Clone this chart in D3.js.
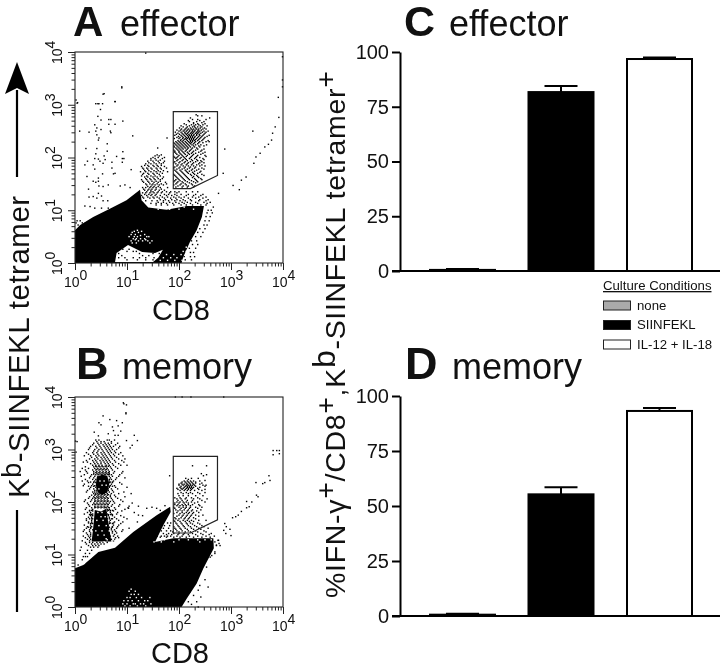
<!DOCTYPE html>
<html><head><meta charset="utf-8">
<style>html,body{margin:0;background:#fff}svg{display:block;filter:blur(.35px)}text{font-family:"Liberation Sans",Arial,sans-serif;fill:#111}</style>
<script src="https://cdnjs.cloudflare.com/ajax/libs/d3/7.8.5/d3.min.js"></script>
</head><body><svg id="c" width="720" height="669"></svg>
<script>
// ---- bar chart values ----
const conditions = ["none", "SIINFEKL", "IL-12 + IL-18"];
const conditionFills = ["#aaaaaa", "#000000", "#ffffff"];
const effectorMeans = [0.5, 81.7, 96.8];
const effectorTops = [0.9, 84.5, 97.5];
const memoryMeans = [0.6, 55.3, 93.2];
const memoryTops = [1.0, 58.5, 94.5];
const percentTicks = [0, 25, 50, 75, 100];
const decades = [0, 1, 2, 3, 4];

// ---- cytometry: all in hundredths of a log10 decade, [CD8, tetramer] ----
const gateOutline = [[189,287],[274,287],[274,166],[222,141],[189,141]];

const effectorSolid = [[0,62],[10,72],[35,87],[67,103],[99,119],[125,139],[128,119],[141,105],[176,101],[215,108],[248,108],[244,87],[234,62],[221,40],[208,11],[205,0],[0,0]];
const effectorHole = [[77,2],[80,19],[102,34],[129,21],[154,19],[169,25],[160,10],[150,2]];
const effectorLoose = [[90,334],[56,321],[77,306],[2,309],[5,304],[40,302],[44,302],[46,302],[53,302],[49,291],[44,278],[65,272],[69,272],[50,271],[92,269],[65,263],[77,263],[38,262],[42,256],[50,253],[9,250],[27,248],[40,250],[68,250],[69,247],[42,243],[111,241],[46,237],[45,233],[177,237],[62,226],[21,217],[42,217],[40,207],[62,212],[92,211],[159,218],[80,202],[56,203],[38,198],[45,197],[58,196],[48,193],[91,198],[94,198],[24,193],[19,186],[54,189],[71,191],[35,186],[38,178],[91,191],[71,180],[108,177],[74,169],[77,170],[23,164],[53,169],[45,161],[35,155],[40,153],[45,155],[46,146],[26,140],[64,148],[54,145],[87,146],[96,148],[106,143],[45,132],[35,126],[27,125],[42,123],[51,127],[54,118],[63,118],[19,108],[29,107],[38,104],[51,104],[64,104],[285,170],[288,216],[276,132],[266,106],[304,147],[316,139],[320,157],[329,163],[342,250],[344,189],[348,201],[356,208],[365,220],[372,225],[378,233],[380,246],[385,258],[392,276],[391,314],[399,334],[399,391],[399,347],[136,398],[90,332],[54,320],[77,306],[4,303],[4,80],[10,80],[2,76],[14,76],[20,76],[6,72],[26,72]];
const effectorRows = [
[281,[233]],[275,[222,259]],[270,[218,240]],[266,[228,244]],[262,[214,224,232,238,246]],[258,[208,216,226,230,236,244]],
[254,[205,212,218,224,228,234,238,246,252]],[250,[200,208,214,220,226,230,236,240,248,256]],[246,[198,206,212,216,222,226,232,236,242,250]],
[242,[192,204,210,216,220,224,228,234,240,246,258]],[238,[196,202,208,214,218,222,226,230,236,242,250]],[234,[204,210,214,220,224,228,232,238,246]],
[230,[194,200,206,212,218,222,226,232,240,252,258]],[226,[192,198,204,210,216,222,228,236]],[222,[190,196,202,208,214,220,228,238,248]],
[218,[194,200,206,212,218,226,234]],[214,[190,198,204,214,222,232,244]],[210,[192,200,208,216,226,238,250]],[206,[196,204,212,220,228,242]],
[202,[190,198,208,214,224,234,252]],[198,[194,202,212,220,230,246]],[194,[196,206,216,226,236,242]],[190,[190,200,210,218,228,240,248]],
[186,[198,204,214,224,234,244]],[182,[192,202,212,222,232]],[178,[196,206,216,226,238,248]],[174,[194,204,214,220,230,242]],[170,[198,208,218,228,236]],
[166,[192,202,212,224,234,248]],[162,[196,206,216,226,238]],[158,[194,200,210,220,232,244]],[154,[190,198,206,216,228,236]],[150,[194,204,212,224]],[146,[198,208,218,230]],
[205,[158,166]],[200,[150,160,172]],[195,[146,156,164]],[190,[142,152,162,170]],[185,[134,140,150,158,166]],[180,[130,138,146,156,164,176]],
[175,[134,142,152,160,170]],[170,[132,140,150,158,168]],[165,[128,138,146,154,164]],[160,[136,144,152,160,168]],[155,[130,140,148,156,164]],
[150,[136,144,150,158,166,176]],[145,[140,146,152,160]],[140,[132,142,148,156,166]],[135,[138,146,150,160,168,176,184,192,200,214,226,236]],
[130,[134,142,148,156,172,180,192,204,218,232,246]],[125,[130,140,150,158,168,178,190,200,210,226,238,252]],[120,[164,174,186,196,208,222,240,256]],
[115,[160,170,182,194,206,216,232,248,260]],[110,[156,166,178,190,204,214,226,242,252]],
[100,[256,262]],[95,[254,264]],[88,[252,260]],[80,[250,258]],[72,[248,254]],[65,[240,250]],[58,[236,246]],[50,[232,242]],[42,[224,234]],[35,[226,236]],[28,[220,232]],[20,[222,228]],[12,[210,222,230]],[6,[200,212,224]],
[30,[128,134]],[22,[100,112,118,146]],[14,[90,130,142]],[6,[100,120,136,150]],[10,[84,96,112,124,136,152]],[26,[92,104,124,138]],[18,[84,124,150,162]],
[279,[236,244]],[272,[226,236,252]],[268,[220,234,248]],[264,[210,228,236,250]],[260,[204,220,229,241,254]],[256,[201,214,222,232,241,249]],[252,[196,203,210,216,221,226,231,237,243]],
[248,[193,204,211,218,224,228,234,238,245,252]],[244,[195,201,208,214,219,224,229,234,239,248]],[240,[199,206,212,218,222,226,231,238,244,254]],[236,[191,200,207,212,216,220,224,228,234,240,248]],
[232,[198,203,208,216,222,226,230,236,244,256]],[228,[190,196,202,208,214,220,224,230,238,246]],[224,[194,200,206,212,218,225,232,242,253]],[220,[191,198,204,210,216,222,230,240]],[216,[196,202,208,216,224,236,248]],
[212,[192,200,206,212,220,228,242]],[208,[194,202,210,218,224,232,246]],[204,[200,206,216,226,236,250]],[200,[192,196,204,210,222,232,240]],[196,[198,208,214,224,234,248]],[192,[192,202,212,222,232,244]],[188,[194,206,216,226,238]],[184,[196,208,218,228,240,250]],[180,[190,200,210,220,230,244]],[176,[192,202,212,224,234]],[172,[196,206,216,226,240]],[168,[190,200,210,222,230,244]],[164,[194,204,214,228,236]],[160,[198,208,218,230,242]],[156,[192,202,212,224,234]],[152,[196,208,220,232]],[148,[190,202,214,226]],[144,[194,206,216,228]],
[203,[154,162]],[198,[146,154,168]],[193,[140,150,160,172]],[188,[136,146,156,166]],[183,[128,142,152,160,172]],[178,[132,140,148,158,166]],[173,[126,136,146,156,164,178]],[168,[130,142,152,162]],[163,[134,140,150,158,170]],[158,[128,138,146,154,164]],[153,[132,142,152,160,174]],[148,[138,148,154,162,170]],[143,[130,136,144,150,156,164,178]],[138,[134,140,146,154,162,172]],[133,[130,136,144,152,158,166,182,196]],[128,[128,138,146,154,164,176,186,196,214,228,242]],[123,[132,144,152,162,172,184,194,204,218,232,246]],[118,[136,148,158,170,180,192,202,212,224,238,252]],[113,[130,146,156,166,176,188,200,210,222,236,254]]
];
const effectorGaps = [
[62,[120]],[58,[110,122]],[54,[108,116,134]],[50,[104,114,120,138,142]],[46,[112,118,126,134]],[42,[108,122,130,140,148]],
[16,[176,190,204]],[10,[170,184,196,212]],[5,[164,178,192,206,216]],[30,[214,222]],[22,[208,214]],
[106,[150,166,190,210]],[102,[160,182,200,228]],[60,[114,128]],[52,[126]],[44,[116,136]],[38,[110,118,144]]
];

const memorySolid = [[0,74],[16,80],[29,91],[45,105],[77,113],[112,143],[157,175],[183,191],[184,181],[170,156],[154,124],[189,131],[266,131],[267,112],[247,74],[234,45],[215,16],[205,0],[0,0]];
const memoryUpperLobe = [[42,248],[52,252],[62,250],[66,235],[62,218],[52,214],[44,218],[40,232]];
const memoryLowerLobe = [[38,185],[50,182],[60,187],[64,160],[70,125],[32,125],[36,160]];
const memoryLoose = [[93,389],[99,385],[98,370],[54,364],[46,351],[67,357],[80,355],[91,351],[50,347],[72,343],[83,345],[74,336],[88,335],[37,333],[64,330],[77,327],[83,327],[114,327],[45,326],[99,317],[120,317],[110,308],[106,303],[1,316],[2,295],[122,175],[138,188],[173,193],[148,190],[157,188],[164,184],[103,188],[94,387],[98,368],[4,315],[193,400],[206,400],[223,400],[286,400],[226,269],[253,269],[182,250],[243,254],[247,250],[253,252],[237,245],[250,241],[213,245],[218,243],[224,245],[288,159],[291,153],[286,146],[298,148],[290,140],[300,136],[303,170],[309,172],[314,175],[320,182],[330,189],[335,191],[340,200],[330,201],[349,213],[352,210],[348,237],[361,235],[365,237],[373,250],[375,241],[381,298],[388,298],[393,298],[381,290],[393,292],[275,127],[277,121],[272,118],[269,105],[269,124],[276,127],[279,117],[272,117],[263,98],[260,95],[269,102],[253,76],[238,64],[250,52],[256,38],[240,41],[237,32],[221,29],[228,22],[242,19],[212,16],[218,10],[234,10],[224,5],[237,0],[6,80],[3,62],[14,90],[20,96]];
const memoryRows = [
[318,[40,46,62,66,76]],[312,[36,44,50,58,64,70,82]],[306,[30,40,48,56,62,68,74,86]],[300,[26,38,46,52,60,66,72,80]],[294,[22,34,42,50,56,64,70,78,88]],
[288,[18,30,40,46,54,60,68,76,92]],[282,[28,38,44,52,58,64,72,84,96]],[276,[16,24,36,42,50,56,62,68,78,94]],[270,[34,40,46,52,60,66,74,88,100]],
[264,[14,26,38,44,50,56,62,70,82]],[258,[10,22,36,42,48,54,60,66,76,92]],[252,[18,32,40,46,52,58,64,70,86]],[246,[28,36,68,80,96]],
[240,[14,24,38,66,74]],[234,[18,34,64,70,90]],[228,[30,40,66,78,100]],[222,[24,38,42,64,72]],
[216,[36,40,44,48,52,56,62,70,84,108]],[210,[28,36,42,46,50,54,60,68,78,96]],[204,[20,32,38,44,50,56,62,72,88]],[198,[24,36,42,48,54,60,66,76,110]],
[192,[28,38,44,50,56,62,70,84,104,122]],[186,[20,34,62,66,78,96]],[180,[24,30,60,68,82,114]],[174,[30,34,64,72,88,130]],
[168,[22,32,62,70,80,100]],[162,[26,32,66,76,92,120]],[156,[18,30,64,74,84]],[150,[22,30,70,80,104]],
[144,[16,28,72,78,90]],[138,[24,30,76]],[132,[20,28,78,84]],[126,[14,28,74]],
[120,[22,32,38,44,50,56]],[114,[12,30,36,44]],[108,[10,24,32]],[102,[20,28]],[96,[16,24]],
[261,[20,34,40,46,52,58,64,72]],[255,[24,36,42,48,54,60,66,74,90]],[249,[12,30,38,44,66,72,84]],[243,[20,34,40,66,70,78]],[237,[26,36,40,66,72,86]],[231,[16,32,38,68,76]],[225,[28,36,42,60,64,70,82]],[219,[22,34,38,42,48,54,60,66,74,94]],[213,[32,38,44,50,56,62,68,76]],[207,[26,34,40,46,52,58,64,70,82]],[201,[18,30,38,44,50,56,62,68,74,92]],[195,[26,34,40,46,52,58,64,72,86]],[189,[22,32,38,44,50,56,60,66,76,102]],[183,[28,34,62,68,74,90]],[177,[18,30,34,62,70,80]],[171,[26,32,60,66,76,94]],[165,[22,32,60,68,84]],[159,[30,34,60,66,72,88]],[153,[24,32,62,72,82]],[147,[18,28,34,62,70,76,92]],[141,[22,30,66,72,80]],[135,[16,26,30,68,74,82]],[129,[24,30,70,76]],[123,[20,28,34,42,48,54,62]],[117,[26,34,40,46]],
[315,[42,50,56,70]],[309,[34,46,54,60,66,78]],[303,[28,42,50,58,64,70,84]],[297,[36,44,54,62,68,76]],[291,[26,36,44,52,58,66,74,84]],[285,[32,42,50,56,62,70,80]],[279,[22,34,40,48,54,60,66,76,90]],[273,[30,38,44,50,58,64,72,84]],[267,[20,36,42,48,54,60,68,78]],
[214,[40,46,52,58,64]],[208,[38,44,50,56,62]],[202,[40,46,52,58,64]],[196,[38,44,50,56,62]],[190,[40,46,52,58,64]],[268,[40,46,52,58,64]],[262,[42,48,54,60]],[256,[40,46,52,58,64]],[253,[36,44,50,56,62,66]],[184,[28,32,64,68,72]],[176,[28,32,64,68,72]],[168,[28,34,66,72]],[160,[26,32,62,68,74]],[152,[26,30,66,72]],[238,[30,36,68,72]],[230,[26,36,66,72]],
[240,[210,216,222,228,240]],[236,[204,214,220,226,232,244]],[232,[200,208,214,218,222,226,230,246,252]],[228,[202,210,216,220,224,228,240]],[224,[198,206,212,218,224,238,250]],
[218,[204,214,222,236,250]],[212,[200,208,218,232,246]],[206,[196,204,212,228,240,254]],[200,[196,202,208,214,224,236,250]],[195,[192,198,206,212,218,226,238]],
[190,[190,200,208,214,222,232,244]],[185,[194,202,210,218,226,242]],[180,[196,206,214,220,228,238]],[175,[200,208,216,224,232,246]],[170,[192,204,212,220,228]],
[165,[190,198,208,216,224,238,252]],[160,[178,184,194,204,214,222,236]],[155,[172,182,198,208,218,230,244]],[150,[170,180,192,202,212,224,238,256]],
[145,[166,176,184,196,206,218,232,248]],[140,[160,170,180,190,200,210,226,242,262]],[135,[158,166,172,178,184,196,206,220,236,252,268]],
[238,[206,212,218,224,232]],[234,[200,206,210,216,222,228,240]],[230,[204,212,216,220,224,232,250]],[226,[196,204,208,214,218,222,226,236]],[222,[202,210,216,222,230,244]],[216,[198,208,218,226,240]],[208,[192,202,214,224,236]],[203,[198,206,216,226,244]],[198,[192,200,210,218,230]],[193,[196,202,208,214,222,240]],[188,[192,204,212,220,236]],[183,[198,206,216,224,234]],[178,[190,202,210,218,226]],[173,[196,206,214,222,238]],[168,[194,200,210,218,232]],[163,[192,202,212,220,228]],[158,[196,206,216,226,240]],[153,[190,200,210,222,234,248]],[148,[194,204,216,228,242]],[143,[188,200,212,222,236,252]],[138,[176,186,198,208,218,232,246,258]],[133,[164,176,190,202,214,228,244,260]]
];
const memoryGaps = [
[34,[108]],[30,[104,116]],[24,[108,114,122]],[18,[100,106,118,128,144]],[12,[94,102,110,122,134,140]],[6,[92,100,112,116,126,132,146]],[2,[96,106,120,136]],
[128,[160,172,200,218,236,250,262,74,62]],[124,[152,166,190,240,56]],[102,[6]],[83,[18]],[96,[30]],
[240,[48,56]],[232,[52,60]],[225,[46]],[180,[44,52]],[172,[50,58]],[165,[42,54]],[155,[46,60]],[145,[40,52,66]],[137,[44,56]],[130,[60]]
];

const svg = d3.select("#c");
const spread = rows => rows.flatMap(([y, xs]) => xs.map(x => [x, y]));
const fromHundredths = v => 10 ** (v / 100);

function flowPanel(x0, x1, yBottom, yTop, p) {
  const x = d3.scaleLog().domain([1, 1e4]).range([x0, x1]);
  const y = d3.scaleLog().domain([1, 1e4]).range([yBottom, yTop]);
  const g = svg.append("g");
  const px = d => x(fromHundredths(d[0])), py = d => y(fromHundredths(d[1]));
  const outline = d3.line().x(px).y(py).curve(d3.curveLinearClosed);
  p.solids.forEach(s => g.append("path").attr("d", outline(s)).attr("fill", "#000"));
  if (p.hole) g.append("path").attr("d", outline(p.hole)).attr("fill", "#fff");
  g.selectAll(".dot").data(p.loose.concat(spread(p.rows))).join("rect").attr("class", "dot")
    .attr("x", d => px(d) - .7).attr("y", d => py(d) - .7).attr("width", 1.4).attr("height", 1.4).attr("fill", "#000");
  g.selectAll(".gap").data(spread(p.gaps)).join("rect").attr("class", "gap")
    .attr("x", d => px(d) - .7).attr("y", d => py(d) - .7).attr("width", 1.4).attr("height", 1.4).attr("fill", "#fff");
  g.append("path").attr("d", outline(gateOutline)).attr("fill", "none").attr("stroke", "#222").attr("stroke-width", 1.2);
  g.append("rect").attr("x", x0).attr("y", yTop).attr("width", x1 - x0).attr("height", yBottom - yTop)
    .attr("fill", "none").attr("stroke", "#222").attr("stroke-width", 1.1);

  const majors = decades.map(d => 10 ** d);
  const minors = d3.range(0, 4).flatMap(d => d3.range(2, 10).map(m => m * 10 ** d));
  const axes = [
    [d3.axisBottom(x), `translate(0,${yBottom})`],
    [d3.axisLeft(y), `translate(${x0},0)`]
  ];
  axes.forEach(([axis, tr]) => {
    [[majors, 7], [minors, 3.5]].forEach(([vals, size]) => {
      const a = g.append("g").attr("transform", tr)
        .call(axis.tickValues(vals).tickSize(size).tickSizeOuter(0).tickFormat(""));
      a.select(".domain").remove();
      a.selectAll("line").attr("stroke", "#222").attr("stroke-width", 1);
    });
  });
  decades.forEach(d => {
    const tx = g.append("text").attr("x", x(10 ** d) - 11).attr("y", yBottom + 24).attr("font-size", 14);
    tx.append("tspan").text("10");
    tx.append("tspan").attr("dy", -7).text(d);
    const ty = g.append("text").attr("transform", `translate(${x0 - 13},${y(10 ** d) + 12}) rotate(-90)`).attr("font-size", 14);
    ty.append("tspan").text("10");
    ty.append("tspan").attr("dy", -7).text(d);
  });
}

function heading(letter, size, word, lx, wx, base) {
  svg.append("text").attr("x", lx).attr("y", base).attr("font-size", size).attr("font-weight", 700).text(letter);
  svg.append("text").attr("x", wx).attr("y", base).attr("font-size", 36).text(word);
}

function barPanel(yBottom, yTop, means, tops) {
  const x = d3.scaleBand().domain(conditions).range([413.25, 708.75]).paddingInner(.5).paddingOuter(.25);
  const y = d3.scaleLinear().domain([0, 100]).range([yBottom, yTop]);
  const g = svg.append("g");
  const rows = conditions.map((c, i) => ({ c, mean: means[i], top: tops[i], fill: conditionFills[i] }));
  const barX = d => x(d.c) + x.bandwidth() / 2;
  g.selectAll(".stem").data(rows).join("line").attr("x1", barX).attr("x2", barX)
    .attr("y1", d => y(d.mean)).attr("y2", d => y(d.top)).attr("stroke", "#000").attr("stroke-width", 2);
  g.selectAll(".cap").data(rows).join("line").attr("x1", d => barX(d) - 16.5).attr("x2", d => barX(d) + 16.5)
    .attr("y1", d => y(d.top)).attr("y2", d => y(d.top)).attr("stroke", "#000").attr("stroke-width", 2);
  g.selectAll(".bar").data(rows).join("rect")
    .attr("x", d => barX(d) - 32.5).attr("width", 65)
    .attr("y", d => y(d.mean)).attr("height", d => yBottom - y(d.mean))
    .attr("fill", d => d.fill).attr("stroke", "#000").attr("stroke-width", 2);
  const ax = g.append("g").attr("transform", "translate(400,0)")
    .call(d3.axisLeft(y).tickValues(percentTicks).tickSize(8).tickPadding(3).tickSizeOuter(0));
  ax.select(".domain").attr("stroke", "#000").attr("stroke-width", 2);
  ax.selectAll("line").attr("stroke", "#000").attr("stroke-width", 2);
  ax.selectAll("text").attr("font-size", 20).attr("font-family", '"Liberation Sans"').attr("fill", "#111");
  g.append("line").attr("x1", 392).attr("x2", 720).attr("y1", yBottom).attr("y2", yBottom).attr("stroke", "#000").attr("stroke-width", 2);
}

flowPanel(75, 283, 263, 52, { solids: [effectorSolid], hole: effectorHole, loose: effectorLoose, rows: effectorRows, gaps: effectorGaps });
flowPanel(75, 283, 607, 397, { solids: [memorySolid, memoryUpperLobe, memoryLowerLobe], loose: memoryLoose, rows: memoryRows, gaps: memoryGaps });
barPanel(271, 52, effectorMeans, effectorTops);
barPanel(616, 396, memoryMeans, memoryTops);

heading("A", 42, "effector", 73, 120, 36);
heading("B", 45, "memory", 76, 122, 379);
heading("C", 43, "effector", 404, 449, 36);
heading("D", 45, "memory", 405, 452, 379);

svg.append("text").attr("x", 181).attr("y", 320).attr("text-anchor", "middle").attr("font-size", 29).text("CD8");
svg.append("text").attr("x", 180).attr("y", 663).attr("text-anchor", "middle").attr("font-size", 29).text("CD8");

// left vertical label with its two arrow segments
const leftLabel = svg.append("text").attr("transform", "translate(29,498) rotate(-90)").attr("font-size", 29.5).attr("letter-spacing", .5);
leftLabel.append("tspan").text("K");
leftLabel.append("tspan").attr("font-size", 27).attr("dy", -8).text("b");
leftLabel.append("tspan").attr("dy", 8).text("-SIINFEKL tetramer");
svg.append("line").attr("x1", 17).attr("x2", 17).attr("y1", 612).attr("y2", 510).attr("stroke", "#000").attr("stroke-width", 2.2);
svg.append("line").attr("x1", 17).attr("x2", 17).attr("y1", 177).attr("y2", 90).attr("stroke", "#000").attr("stroke-width", 2.2);
svg.append("path").attr("d", d3.line()([[17, 62], [29, 94], [17, 88], [5, 94]]) + "Z").attr("fill", "#000");

// right vertical label
const rightLabel = svg.append("text").attr("transform", "translate(345,598) rotate(-90)").attr("font-size", 28.5).attr("letter-spacing", .7);
[["%IFN-\u03b3", 0, 28.5], ["+", -10, 28.5], ["/CD8", 10, 28.5], ["+", -10, 28.5], [",K", 10, 28.5], ["b", -10, 32], ["-SIINFEKL tetramer", 10, 28.5], ["+", -10, 28.5]].forEach(([t, dy, size]) => {
  rightLabel.append("tspan").attr("dy", dy).attr("font-size", size).text(t);
});

// legend
const legendY = d3.scalePoint().domain(conditions).range([305.5, 344.5]);
svg.append("text").attr("x", 603).attr("y", 290).attr("font-size", 13.2).attr("text-decoration", "underline").text("Culture Conditions");
const legend = svg.append("g").selectAll("g").data(conditions).join("g");
legend.append("rect").attr("x", 603.5).attr("width", 27).attr("y", d => legendY(d) - 4.5).attr("height", 9)
  .attr("fill", (d, i) => conditionFills[i]).attr("stroke", "#222").attr("stroke-width", 1);
legend.append("text").attr("x", 637).attr("y", d => legendY(d) + 4).attr("font-size", 13.2).text(d => d);
</script></body></html>
